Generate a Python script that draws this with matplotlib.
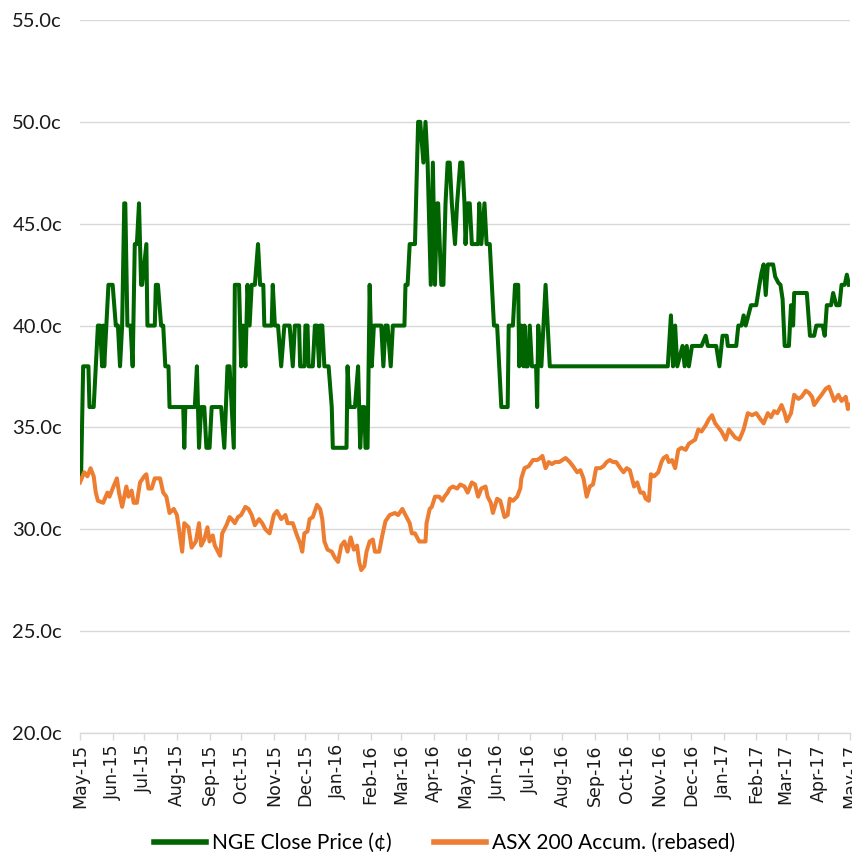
import numpy as np
import pandas as pd
import matplotlib
matplotlib.use('Agg')
import matplotlib.pyplot as plt
import matplotlib.dates as mdates
from matplotlib.ticker import FixedLocator, FuncFormatter

# start of the chart (day 0)
start = pd.Timestamp('2015-05-01')

# NGE close price, cents (days after 1 May 2015)
nge_day = [1, 3, 8, 9, 13, 15, 17, 19, 21, 22, 23, 27, 31, 34, 36, 38, 40, 42, 43, 45,
           48, 50, 52, 54, 56, 58, 59, 63, 64, 71, 72, 74, 77, 79, 81, 84, 85, 98, 99, 100,
           109, 111, 113, 115, 118, 120, 123, 125, 134, 137, 140, 142, 146, 147, 151, 153, 155, 157,
           159, 161, 163, 166, 169, 171, 174, 175, 182, 183, 185, 188, 191, 194, 199, 202, 204,
           208, 209, 213, 214, 216, 217, 221, 223, 225, 227, 228, 230, 232, 236, 239, 240, 253, 254,
           256, 261, 264, 266, 268, 270, 271, 273, 275, 277, 279, 286, 288, 290, 292, 295, 297, 308,
           309, 311, 313,
           318, 321, 323, 326, 328, 330, 331, 333, 335, 337, 339, 340, 343, 345, 347, 349, 351, 353,
           356, 358, 361, 363, 365, 366, 368, 370, 372, 378, 379, 381, 384, 386, 389, 393, 396, 398,
           400, 406, 407, 411, 413, 416,
           417, 419, 421, 422, 423, 425, 427, 429, 433, 434, 435, 438, 442, 446, 558,
           561, 563, 565, 567, 572, 574, 576, 578, 581, 590, 594, 596, 604, 607, 610, 614, 615, 623,
           625, 628, 630, 632, 637, 642, 645, 647, 649, 651, 653, 658, 660, 663, 665, 667, 669, 673,
           675, 677, 678, 690, 693, 697, 699, 705, 707, 709, 713, 715, 718, 721, 723, 726, 728, 730]
nge_price = [32.5, 38, 38, 36, 36, 38, 40, 40, 38, 40, 38, 42, 42, 40, 40, 38, 40, 46, 46, 40,
             40, 38, 44, 44, 46, 42, 42, 44, 40, 40, 42, 42, 40, 40, 38, 38, 36, 36, 34, 36,
             36, 38, 34, 36, 36, 34, 34, 36, 36, 34, 38, 38, 34, 42, 42, 38, 40, 38,
             42, 40, 42, 42, 44, 42, 42, 40, 40, 42, 40, 40, 38, 40, 40, 38, 40,
             40, 38, 38, 40, 40, 38, 38, 40, 40, 38, 40, 40, 38, 38, 36, 34, 34, 38,
             36, 36, 38, 34, 36, 36, 34, 34, 42, 38, 40, 40, 38, 40, 40, 38, 40, 40,
             42, 42, 44,
             44, 50, 50, 48, 50, 48, 46, 42, 48, 42, 46, 46, 42, 42, 46, 48, 48, 46,
             44, 46, 48, 48, 46, 44, 46, 46, 44, 44, 46, 44, 46, 44, 44, 40, 40, 38,
             36, 36, 40, 40, 42, 42,
             38, 40, 38, 40, 38, 38, 40, 38, 38, 36, 40, 38, 42, 38, 38,
             40.5, 38, 40, 38, 39, 38, 39, 38, 39, 39, 39.5, 39, 39, 38, 39.5, 39.5, 39, 39,
             40, 40, 40.5, 40, 41, 41, 42, 42.6, 43, 41.5, 43, 43, 42.4, 42.1, 42, 41.3, 39, 39,
             41, 40, 41.6, 41.6, 39.5, 39.5, 40, 40, 39.5, 41, 41, 41.6, 41, 41, 42, 42, 42.5, 42]

# ASX 200 accumulation index, rebased to NGE price
asx_day = [0, 4, 7, 10, 13, 15, 17, 22, 26, 28,
           31, 35, 37, 40, 44, 46, 49, 51, 54, 57,
           61, 63, 65, 68, 71, 76, 79, 82, 85, 89,
           92, 94, 97, 99, 103, 106, 110, 113, 115, 118,
           121, 123, 126, 128, 133, 135, 139, 142, 144, 147,
           150, 153, 157, 160, 163, 166, 170, 173, 176, 180,
           184, 187, 191, 195, 197, 202, 206, 209, 211, 213,
           216, 218, 221, 225, 228, 230, 232, 235, 239, 242,
           245, 248, 251, 254, 257, 260, 263, 265, 267, 270,
           272, 275, 278, 280, 284, 287, 290, 294, 299, 302,
           306, 309, 313, 315, 318, 322, 325, 328, 329, 332,
           334, 337, 341, 344, 346, 349, 351, 354, 358, 361,
           365, 368, 372, 375, 378, 381, 385, 387, 390, 392,
           396, 399, 401, 403, 406, 408, 411, 415, 418, 419,
           422, 426, 430, 434, 437, 439, 442, 445, 448, 451,
           455, 458, 461, 465, 468, 472, 475, 478, 481, 484,
           487, 490, 494, 497, 500, 503, 506, 509, 513, 516,
           519, 522, 526, 529, 532, 535, 537, 540, 542, 545,
           549, 552, 554, 557, 559, 562, 565, 568, 571, 575,
           578, 581, 584, 587, 590, 594, 597, 600, 603, 606,
           609, 613, 616, 619, 622, 626, 630, 634, 638, 642,
           646, 649, 653, 656, 659, 662, 666, 669, 671, 675,
           678, 682, 685, 689, 692, 695, 697, 701, 704, 708,
           711, 714, 716, 720, 723, 727, 729, 731]
asx_value = [32.3, 32.8, 32.6, 33.0, 32.6, 31.8, 31.4, 31.3, 31.8, 31.6,
             32.0, 32.5, 31.8, 31.1, 32.1, 31.6, 31.9, 31.3, 31.3, 32.3,
             32.6, 32.7, 32.0, 32.0, 32.5, 32.5, 31.8, 31.6, 30.8, 31.0,
             30.7, 30.0, 28.9, 30.3, 30.1, 29.1, 29.4, 30.3, 29.2, 29.5,
             30.1, 29.4, 29.7, 29.2, 28.7, 29.8, 30.2, 30.6, 30.5, 30.3,
             30.6, 30.7, 31.1, 31.0, 30.7, 30.2, 30.5, 30.3, 30.0, 29.8,
             30.7, 30.9, 30.5, 30.7, 30.3, 30.3, 29.7, 29.3, 28.9, 29.8,
             29.9, 30.5, 30.6, 31.2, 31.0, 30.5, 29.4, 29.0, 28.9, 28.6,
             28.4, 29.2, 29.4, 28.9, 29.6, 29.0, 29.2, 28.4, 28.0, 28.2,
             28.9, 29.4, 29.5, 28.9, 28.9, 29.7, 30.4, 30.7, 30.8, 30.7,
             31.0, 30.7, 30.3, 29.8, 29.8, 29.4, 29.4, 29.4, 30.3, 31.0,
             31.1, 31.6, 31.6, 31.4, 31.6, 31.8, 32.0, 32.1, 32.0, 32.2,
             32.1, 31.8, 32.3, 32.2, 31.6, 32.0, 32.1, 31.6, 31.3, 30.8,
             31.5, 31.4, 31.0, 30.6, 30.7, 31.5, 31.4, 31.6, 32.0, 32.5,
             33.0, 33.1, 33.4, 33.4, 33.5, 33.6, 33.0, 33.3, 33.2, 33.3,
             33.3, 33.4, 33.5, 33.3, 33.1, 32.8, 32.9, 32.5, 31.6, 32.1,
             32.2, 33.0, 33.0, 33.1, 33.3, 33.4, 33.3, 33.3, 33.0, 32.8,
             33.0, 32.9, 32.1, 32.3, 31.8, 31.8, 31.5, 31.4, 32.7, 32.6,
             32.8, 33.3, 33.5, 33.6, 33.3, 33.4, 33.0, 33.9, 34.0, 33.9,
             34.2, 34.3, 34.4, 34.9, 34.8, 35.1, 35.4, 35.6, 35.2, 35.0,
             34.8, 34.4, 34.9, 34.7, 34.5, 34.4, 34.9, 35.7, 35.6, 35.7,
             35.4, 35.2, 35.7, 35.5, 35.8, 35.7, 36.1, 35.7, 35.3, 35.7,
             36.6, 36.4, 36.5, 36.8, 36.7, 36.5, 36.1, 36.4, 36.6, 36.9,
             37.0, 36.6, 36.3, 36.6, 36.3, 36.5, 35.9, 36.1]

y_ticks = [20, 25, 30, 35, 40, 45, 50, 55]

assert len(nge_day) == len(nge_price)
assert len(asx_day) == len(asx_value)

nge_dates = start + pd.to_timedelta(nge_day, unit='D')
asx_dates = start + pd.to_timedelta(asx_day, unit='D')

fig = plt.figure(figsize=(8.52, 8.55), dpi=100)
ax = fig.add_axes([80 / 852, 1 - 733 / 855, 770 / 852, 713 / 855])

ax.plot(nge_dates, nge_price, color='#006400', lw=2.9, solid_joinstyle='round',
        label='NGE Close Price (¢)', zorder=3)
ax.plot(asx_dates, asx_value, color='#ED7D31', lw=2.9, solid_joinstyle='round',
        label='ASX 200 Accum. (rebased)', zorder=3)

ax.set_xlim(start, pd.Timestamp('2017-05-01'))
ax.set_ylim(20, 55)
ax.yaxis.set_major_locator(FixedLocator(y_ticks))
ax.yaxis.set_major_formatter(FuncFormatter(lambda v, p: f'{v:.1f}c'))
ax.grid(axis='y', color='#D9D9D9', lw=1)
ax.set_axisbelow(True)

ax.xaxis.set_major_locator(mdates.MonthLocator())
ax.xaxis.set_major_formatter(mdates.DateFormatter('%b-%y'))

for s in ['top', 'right', 'left']:
    ax.spines[s].set_visible(False)
ax.spines['bottom'].set_color('#D9D9D9')
ax.spines['bottom'].set_linewidth(1)

ax.tick_params(axis='y', length=0, pad=13, labelsize=14.5, labelcolor='#1a1a1a')
ax.tick_params(axis='x', length=5, color='#D9D9D9', width=1, pad=3,
               labelsize=12.5, labelcolor='#1a1a1a', labelrotation=90)
for lab in ax.get_yticklabels():
    lab.set_family('Lato')
for lab in ax.get_xticklabels():
    lab.set_family('DejaVu Sans')

leg = fig.legend(loc='center', bbox_to_anchor=(0.522, 1 - 843 / 855), ncol=2,
                 frameon=False, handlelength=2.5, columnspacing=2.0, handletextpad=0.3,
                 prop={'family': 'Lato', 'size': 15})
for line in leg.get_lines():
    line.set_linewidth(4)

fig.savefig('out.png', dpi=100)
